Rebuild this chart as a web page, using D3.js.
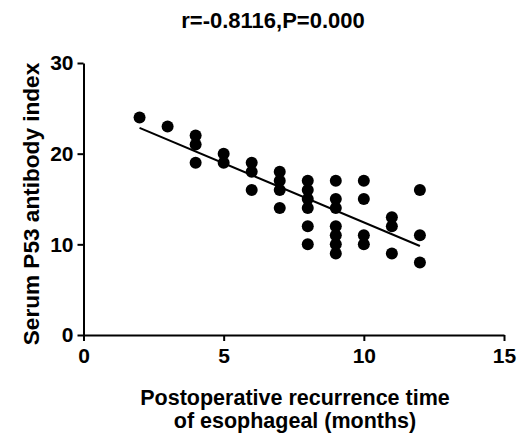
<!DOCTYPE html>
<html>
<head>
<meta charset="utf-8">
<script src="https://cdn.jsdelivr.net/npm/d3@7"></script>
<style>
  body { margin: 0; background: #fff; }
  text { font-family: "Liberation Sans", Arial, sans-serif; font-weight: bold; fill: #000; }
</style>
</head>
<body>
<div id="chart"></div>
<script>
// months to recurrence and the matching P53 index
var months = [2, 3, 4, 4, 4, 5, 5, 6, 6, 6, 7, 7, 7, 7,
  8, 8, 8, 8, 8, 8, 9, 9, 9, 9, 9, 9, 9,
  10, 10, 10, 10, 11, 11, 11, 12, 12, 12];
var p53 = [24, 23, 22, 21, 19, 20, 19, 19, 18, 16, 18, 17, 16, 14,
  17, 16, 15, 14, 12, 10, 17, 15, 14, 12, 11, 10, 9,
  17, 15, 11, 10, 13, 12, 9, 16, 11, 8];
var xTicks = [0, 5, 10, 15];
var yTicks = [0, 10, 20, 30];
var title = "r=-0.8116,P=0.000";

var width = 521, height = 433;

var svg = d3.select('#chart').append('svg')
  .attr('width', width)
  .attr('height', height);

var x = d3.scaleLinear().domain([0, 15]).range([83.5, 504]);
var y = d3.scaleLinear().domain([0, 30]).range([335, 63]);

var xAxis = svg.append('g')
  .attr('transform', 'translate(0,' + y(0) + ')')
  .call(d3.axisBottom(x).tickValues(xTicks).tickSize(6).tickSizeOuter(0).tickPadding(7));

var yAxis = svg.append('g')
  .attr('transform', 'translate(' + x(0) + ',0)')
  .call(d3.axisLeft(y).tickValues(yTicks).tickSize(6).tickSizeOuter(0).tickPadding(4));

[xAxis, yAxis].forEach(function(g) {
  g.select('.domain').attr('stroke', '#000').attr('stroke-width', 2);
  g.selectAll('.tick line').attr('stroke', '#000').attr('stroke-width', 2);
  g.selectAll('.tick text')
    .style('font-family', '"Liberation Sans", Arial, sans-serif')
    .style('font-weight', 'bold')
    .style('font-size', '21px')
    .attr('fill', '#000');
});

// least squares fit
var mx = d3.mean(months), my = d3.mean(p53);
var sxy = d3.sum(months, function(d, i) { return (d - mx) * (p53[i] - my); });
var sxx = d3.sum(months, function(d) { return (d - mx) * (d - mx); });
var slope = sxy / sxx, intercept = my - slope * mx;
var ext = d3.extent(months);

svg.append('line')
  .attr('x1', x(ext[0])).attr('y1', y(intercept + slope * ext[0]))
  .attr('x2', x(ext[1])).attr('y2', y(intercept + slope * ext[1]))
  .attr('stroke', '#000')
  .attr('stroke-width', 2);

svg.selectAll('circle')
  .data(months)
  .enter()
  .append('circle')
  .attr('cx', function(d) { return x(d); })
  .attr('cy', function(d, i) { return y(p53[i]); })
  .attr('r', 6)
  .attr('fill', '#000');

svg.append('text')
  .attr('x', 273).attr('y', 28)
  .attr('text-anchor', 'middle')
  .style('font-size', '22px')
  .text(title);

svg.append('text')
  .attr('transform', 'translate(39,204) rotate(-90)')
  .attr('text-anchor', 'middle')
  .style('font-size', '22.6px')
  .text('Serum P53 antibody index');

svg.append('text')
  .attr('x', 295).attr('y', 405)
  .attr('text-anchor', 'middle')
  .style('font-size', '21.5px')
  .text('Postoperative recurrence time');

svg.append('text')
  .attr('x', 295).attr('y', 428)
  .attr('text-anchor', 'middle')
  .style('font-size', '21.5px')
  .text('of esophageal (months)');
</script>
</body>
</html>
